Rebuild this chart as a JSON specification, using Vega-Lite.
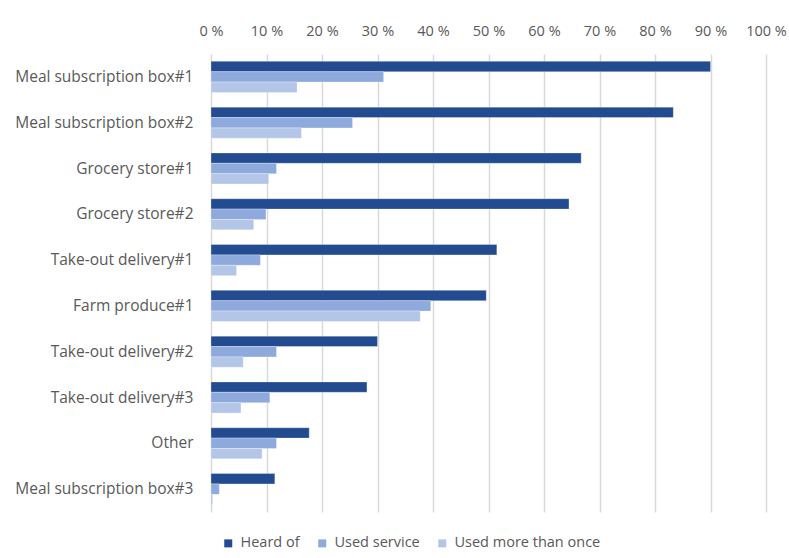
{
  "$schema": "https://vega.github.io/schema/vega-lite/v6.json",
  "width": 555,
  "height": 458,
  "autosize": {"type": "none"},
  "padding": {"left": 211, "top": 54, "right": 23, "bottom": 46},
  "background": "white",
  "data": {
    "values": [
      {"category": "Meal subscription box#1", "series": "Heard of", "value": 90.0},
      {"category": "Meal subscription box#1", "series": "Used service", "value": 31.1},
      {"category": "Meal subscription box#1", "series": "Used more than once", "value": 15.5},
      {"category": "Meal subscription box#2", "series": "Heard of", "value": 83.3},
      {"category": "Meal subscription box#2", "series": "Used service", "value": 25.5},
      {"category": "Meal subscription box#2", "series": "Used more than once", "value": 16.3},
      {"category": "Grocery store#1", "series": "Heard of", "value": 66.7},
      {"category": "Grocery store#1", "series": "Used service", "value": 11.8},
      {"category": "Grocery store#1", "series": "Used more than once", "value": 10.4},
      {"category": "Grocery store#2", "series": "Heard of", "value": 64.5},
      {"category": "Grocery store#2", "series": "Used service", "value": 9.9},
      {"category": "Grocery store#2", "series": "Used more than once", "value": 7.7},
      {"category": "Take-out delivery#1", "series": "Heard of", "value": 51.5},
      {"category": "Take-out delivery#1", "series": "Used service", "value": 8.9},
      {"category": "Take-out delivery#1", "series": "Used more than once", "value": 4.6},
      {"category": "Farm produce#1", "series": "Heard of", "value": 49.6},
      {"category": "Farm produce#1", "series": "Used service", "value": 39.6},
      {"category": "Farm produce#1", "series": "Used more than once", "value": 37.7},
      {"category": "Take-out delivery#2", "series": "Heard of", "value": 30.0},
      {"category": "Take-out delivery#2", "series": "Used service", "value": 11.8},
      {"category": "Take-out delivery#2", "series": "Used more than once", "value": 5.8},
      {"category": "Take-out delivery#3", "series": "Heard of", "value": 28.1},
      {"category": "Take-out delivery#3", "series": "Used service", "value": 10.6},
      {"category": "Take-out delivery#3", "series": "Used more than once", "value": 5.4},
      {"category": "Other", "series": "Heard of", "value": 17.7},
      {"category": "Other", "series": "Used service", "value": 11.8},
      {"category": "Other", "series": "Used more than once", "value": 9.2},
      {"category": "Meal subscription box#3", "series": "Heard of", "value": 11.5},
      {"category": "Meal subscription box#3", "series": "Used service", "value": 1.5},
      {"category": "Meal subscription box#3", "series": "Used more than once", "value": 0.3}
    ]
  },
  "mark": {"type": "bar", "stroke": "white", "strokeWidth": 0.5, "strokeOpacity": 0.6},
  "encoding": {
    "y": {
      "field": "category",
      "type": "nominal",
      "sort": null,
      "scale": {"paddingInner": 0.32, "paddingOuter": 0.16},
      "axis": {
        "title": null,
        "ticks": false,
        "domain": false,
        "labelPadding": 18,
        "labelFont": "Open Sans",
        "labelFontSize": 15.5,
        "labelColor": "#595959",
        "labelLimit": 300
      }
    },
    "yOffset": {
      "field": "series",
      "type": "nominal",
      "sort": ["Heard of", "Used service", "Used more than once"],
      "scale": {"paddingInner": 0, "paddingOuter": 0}
    },
    "x": {
      "field": "value",
      "type": "quantitative",
      "scale": {"domain": [0, 100], "nice": false},
      "axis": {
        "orient": "top",
        "title": null,
        "values": [0, 10, 20, 30, 40, 50, 60, 70, 80, 90, 100],
        "labelExpr": "datum.value + ' %'",
        "ticks": false,
        "domain": false,
        "labelPadding": 16,
        "labelFont": "Open Sans",
        "labelFontSize": 14.5,
        "labelColor": "#595959",
        "labelFlush": false,
        "grid": true,
        "gridColor": "#d9d9d9",
        "gridWidth": 1.5
      }
    },
    "color": {
      "field": "series",
      "type": "nominal",
      "sort": ["Heard of", "Used service", "Used more than once"],
      "scale": {
        "domain": ["Heard of", "Used service", "Used more than once"],
        "range": ["#224B90", "#8EA9DC", "#B4C6E7"]
      },
      "legend": {
        "title": null,
        "orient": "none",
        "direction": "horizontal",
        "legendX": 10,
        "legendY": 482,
        "symbolType": "square",
        "symbolSize": 64,
        "symbolStrokeWidth": 0,
        "labelFont": "Open Sans",
        "labelFontSize": 14.5,
        "labelColor": "#595959",
        "labelOffset": 5,
        "columnPadding": 15
      }
    }
  },
  "config": {
    "view": {"stroke": null}
  }
}
